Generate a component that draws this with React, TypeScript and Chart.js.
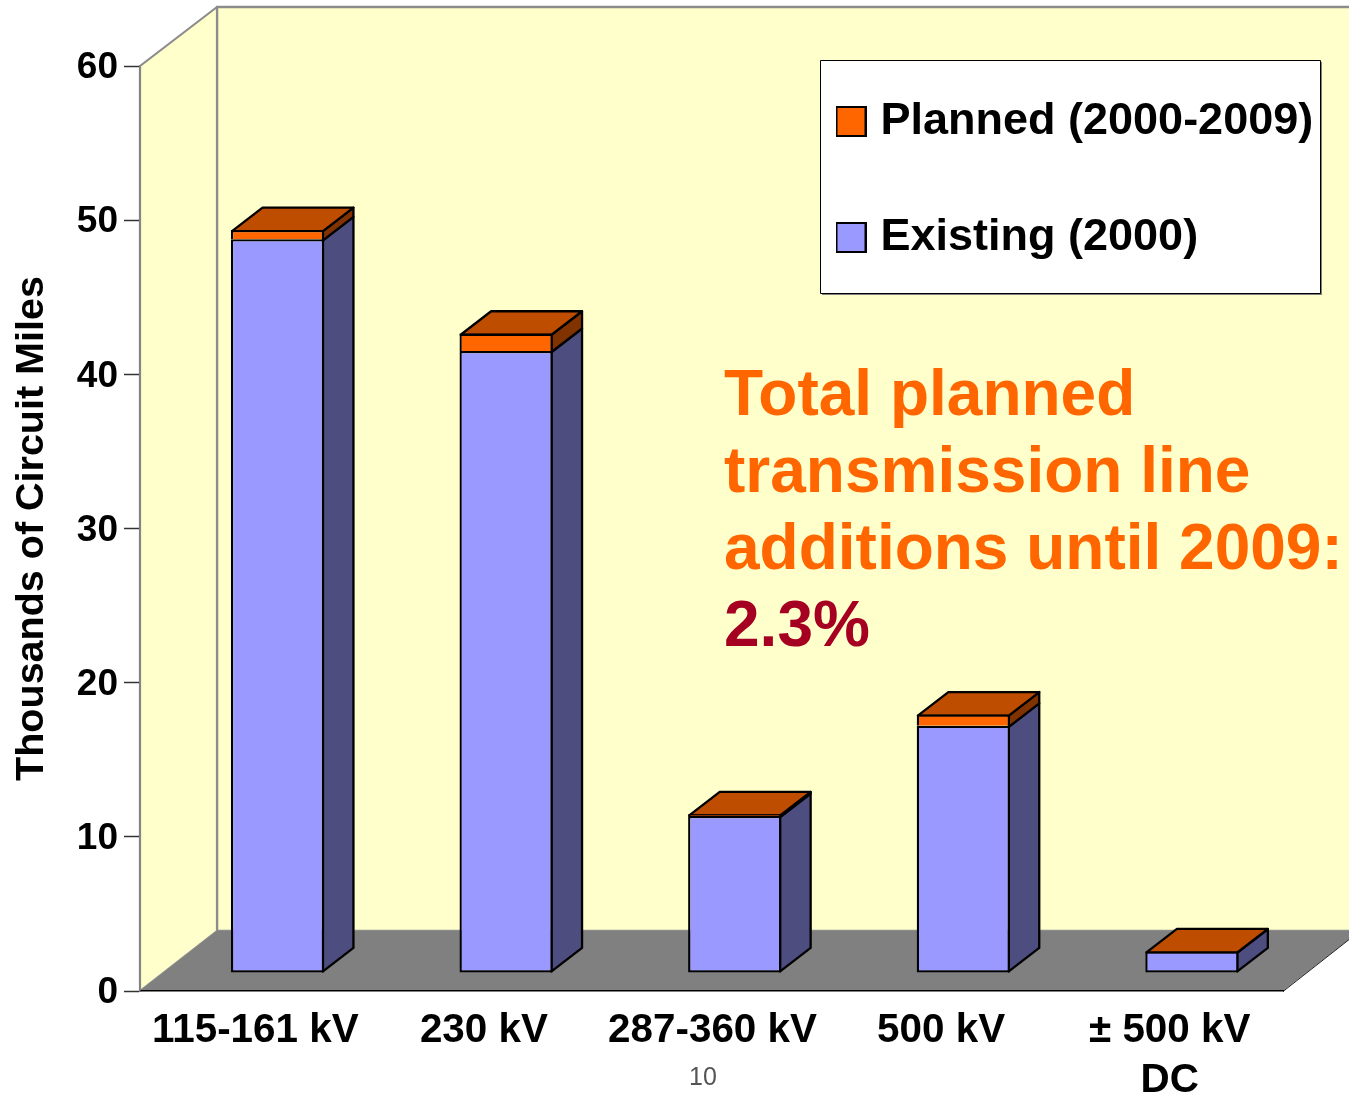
import React, { useEffect, useRef } from "react";
import { Chart, registerables } from "chart.js";

Chart.register(...registerables);

const categories = ["115-161 kV", "230 kV", "287-360 kV", "500 kV", ["± 500 kV", "DC"]];
const existing = [47.6, 40.36, 10.2, 16.05, 1.4];
const planned = [0.6, 1.12, 0.1, 0.73, 0.02];
const seriesNames = ["Existing (2000)", "Planned (2000-2009)"];
const noteLines = ["Total planned", "transmission line", "additions until 2009:"];
const noteValue = "2.3%";
const pageNumber = "10";

const FONT = '"Liberation Sans", Arial, sans-serif';
const DEPTH_X = 77;
const DEPTH_Y = 60;
const BAR_SHIFT_X = 23.2;
const BAR_SHIFT_Y = 17.9;
const BAR_DX = 30.5;
const BAR_DY = 23.5;
const BW = 2.3;
const HB = BW / 2;

const poly = (ctx: CanvasRenderingContext2D, pts: number[][], fill: string, stroke: string, lw: number) => {
  ctx.beginPath();
  pts.forEach((p, i) => (i ? ctx.lineTo(p[0], p[1]) : ctx.moveTo(p[0], p[1])));
  ctx.closePath();
  ctx.fillStyle = fill;
  ctx.fill();
  if (stroke) {
    ctx.strokeStyle = stroke;
    ctx.lineWidth = lw;
    ctx.lineJoin = "round";
    ctx.stroke();
  }
};

const swatch = (fill: string) => {
  const c = document.createElement("canvas");
  c.width = 31;
  c.height = 31;
  const x = c.getContext("2d")!;
  x.fillStyle = fill;
  x.fillRect(1, 1, 29, 29);
  x.strokeStyle = "#000";
  x.lineWidth = 2;
  x.strokeRect(1, 1, 29, 29);
  return c;
};

const scene = {
  id: "scene",
  afterLayout(chart: any) {
    const lg = chart.legend;
    lg.left = 773;
    lg.top = 28;
    lg.right = 1349;
  },
  beforeDraw(chart: any) {
    const { ctx, chartArea: a } = chart;
    ctx.save();
    const wall = "#FFFFCC";
    const edge = "#8C8C8C";
    poly(ctx, [[a.left + DEPTH_X, a.top - DEPTH_Y + 1], [a.right + DEPTH_X, a.top - DEPTH_Y + 1], [a.right + DEPTH_X, a.bottom - DEPTH_Y], [a.left + DEPTH_X, a.bottom - DEPTH_Y]], wall, edge, 2.4);
    poly(ctx, [[a.left, a.top], [a.left + DEPTH_X, a.top - DEPTH_Y + 1], [a.left + DEPTH_X, a.bottom - DEPTH_Y], [a.left, a.bottom]], wall, edge, 2.2);
    poly(ctx, [[a.left, a.bottom], [a.left + DEPTH_X, a.bottom - DEPTH_Y], [a.right + DEPTH_X, a.bottom - DEPTH_Y], [a.right, a.bottom]], "#808080", "", 0);
    ctx.strokeStyle = "#222";
    ctx.lineWidth = 1;
    ctx.beginPath();
    ctx.moveTo(a.right, a.bottom + 0.5);
    ctx.lineTo(a.right + DEPTH_X, a.bottom - DEPTH_Y);
    ctx.stroke();
    // legend panel
    ctx.fillStyle = "#808080";
    ctx.fillRect(822, 62, 500, 233);
    ctx.fillStyle = "#fff";
    ctx.fillRect(820.5, 60.5, 500, 233);
    ctx.strokeStyle = "#000";
    ctx.lineWidth = 1;
    ctx.strokeRect(820.5, 60.5, 500, 233);
    ctx.restore();
  },
  beforeDatasetsDraw(chart: any) {
    const { ctx } = chart;
    ctx.save();
    ctx.translate(BAR_SHIFT_X, -BAR_SHIFT_Y);
    const sides = ["#4D4D80", "#803300"];
    chart.data.datasets.forEach((_: any, di: number) => {
      chart.getDatasetMeta(di).data.forEach((el: any) => {
        const r = el.x + el.width / 2 - HB;
        const top = el.y + HB;
        const bottom = di === 0 ? el.base - HB : el.base + HB;
        poly(ctx, [[r, top], [r + BAR_DX, top - BAR_DY], [r + BAR_DX, bottom - BAR_DY], [r, bottom]], sides[di], "#000", BW);
      });
    });
    chart.getDatasetMeta(chart.data.datasets.length - 1).data.forEach((el: any) => {
      const l = el.x - el.width / 2 + HB;
      const r = el.x + el.width / 2 - HB;
      const top = el.y + HB;
      poly(ctx, [[l, top], [l + BAR_DX, top - BAR_DY], [r + BAR_DX, top - BAR_DY], [r, top]], "#BF4D00", "#000", BW);
    });
  },
  afterDatasetsDraw(chart: any) {
    chart.ctx.restore();
  },
  afterDraw(chart: any) {
    const { ctx } = chart;
    ctx.save();
    ctx.textAlign = "left";
    ctx.textBaseline = "alphabetic";
    ctx.font = `bold 64px ${FONT}`;
    ctx.fillStyle = "#FF6600";
    noteLines.forEach((t, i) => ctx.fillText(t, 724, 415 + i * 77));
    ctx.fillStyle = "#A50021";
    ctx.fillText(noteValue, 724, 646);
    ctx.font = `25px ${FONT}`;
    ctx.fillStyle = "#555";
    ctx.textAlign = "center";
    ctx.fillText(pageNumber, 703, 1085);
    ctx.restore();
  },
};

export default function App() {
  const ref = useRef<HTMLCanvasElement>(null);
  useEffect(() => {
    const swatches = [swatch("#9999FF"), swatch("#FF6600")];
    const chart = new Chart(ref.current!, {
      type: "bar",
      data: {
        labels: categories as any,
        datasets: [
          { label: seriesNames[0], data: existing, backgroundColor: "#9999FF", borderColor: "#000", borderWidth: BW, borderSkipped: false },
          { label: seriesNames[1], data: planned, backgroundColor: "#FF6600", borderColor: "#000", borderWidth: BW, borderSkipped: "bottom" },
        ],
      },
      options: {
        responsive: false,
        animation: false,
        devicePixelRatio: 1,
        layout: { padding: { left: 0, top: 66, right: 66, bottom: 0 } },
        datasets: { bar: { barPercentage: 0.4077, categoryPercentage: 1, clip: false as any } },
        plugins: {
          tooltip: { enabled: false },
          legend: {
            position: "chartArea" as any,
            align: "start",
            reverse: true,
            labels: {
              color: "#000",
              font: { family: FONT, size: 45, weight: "bold", lineHeight: 1.2 },
              padding: 71,
              usePointStyle: true,
              pointStyleWidth: 14,
              boxHeight: 29,
              generateLabels: (c: any) =>
                c.data.datasets.map((d: any, i: number) => ({
                  text: d.label,
                  datasetIndex: i,
                  pointStyle: swatches[i],
                  fontColor: "#000",
                  hidden: false,
                })),
            },
          },
        },
        scales: {
          x: {
            stacked: true,
            afterFit: (s: any) => { s.height = 102; },
            grid: { display: false, drawTicks: false },
            border: { display: true, color: "#000", width: 1.5 },
            ticks: {
              color: "#000",
              padding: 15,
              maxRotation: 0,
              autoSkip: false,
              labelOffset: 1,
              font: { family: FONT, size: 40.4, weight: "bold", lineHeight: 1.24 },
            },
          },
          y: {
            stacked: true,
            min: 0,
            max: 60,
            afterFit: (s: any) => { s.width = 140; },
            grid: { drawOnChartArea: false, tickLength: 16, tickColor: "#333", tickWidth: 1.5 },
            border: { display: true, color: "#808080", width: 1.5 },
            ticks: {
              stepSize: 10,
              color: "#000",
              padding: 6,
              labelOffset: 2,
              font: { family: FONT, size: 37, weight: "bold" },
            },
            title: {
              display: true,
              text: "Thousands of Circuit Miles",
              color: "#000",
              padding: { top: 8, bottom: 0 },
              font: { family: FONT, size: 39.5, weight: "bold" },
            },
          },
        },
      },
      plugins: [scene],
    } as any);
    return () => chart.destroy();
  }, []);
  return (
    <div style={{ position: "fixed", left: 0, top: 0, width: 1349, height: 1093, overflow: "hidden", background: "#fff" }}>
      <canvas ref={ref} width={1349} height={1093} style={{ display: "block" }} />
    </div>
  );
}
